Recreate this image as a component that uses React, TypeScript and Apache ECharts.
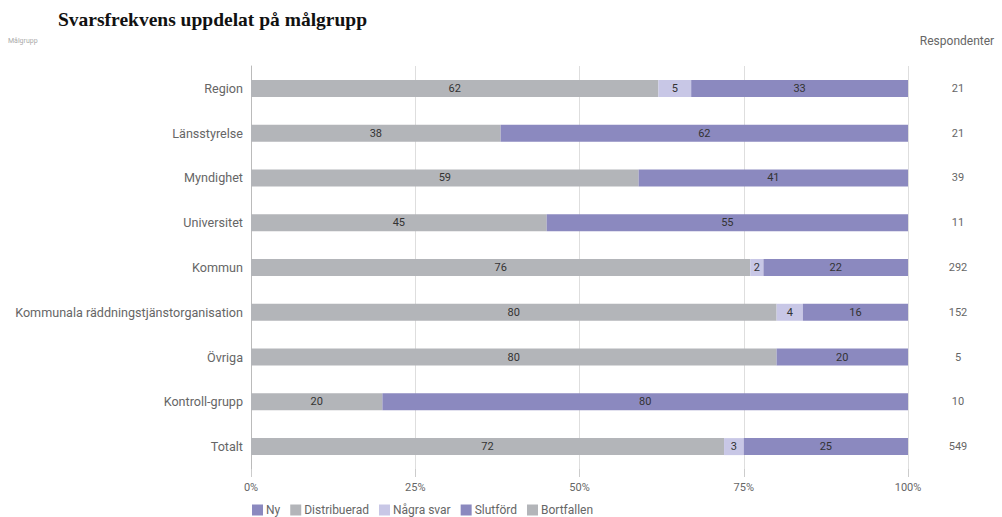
import React, { useEffect, useRef } from "react";
import * as echarts from "echarts";

const categories = [
  "Region",
  "Länsstyrelse",
  "Myndighet",
  "Universitet",
  "Kommun",
  "Kommunala räddningstjänstorganisation",
  "Övriga",
  "Kontroll-grupp",
  "Totalt",
];
const ny = [0, 0, 0, 0, 0, 0, 0, 0, 0];
const distribuerad = [62, 38, 59, 45, 76, 80, 80, 20, 72];
const nagraSvar = [5, 0, 0, 0, 2, 4, 0, 0, 3];
const slutford = [33, 62, 41, 55, 22, 16, 20, 80, 25];
const bortfallen = [0, 0, 0, 0, 0, 0, 0, 0, 0];
const respondenter = [21, 21, 39, 11, 292, 152, 5, 10, 549];
const xTicks = [0, 25, 50, 75, 100];

const seriesDefs = [
  { name: "Ny", data: ny, color: "#8b89bf" },
  { name: "Distribuerad", data: distribuerad, color: "#b3b5b9" },
  { name: "Några svar", data: nagraSvar, color: "#c8c7e6" },
  { name: "Slutförd", data: slutford, color: "#8b89bf" },
  { name: "Bortfallen", data: bortfallen, color: "#b3b5b9" },
];

export default function App() {
  const ref = useRef<HTMLDivElement>(null);
  useEffect(() => {
    if (!ref.current) return;
    const chart = echarts.init(ref.current, undefined, { renderer: "svg" });
    const font = "Roboto, 'Noto Sans', sans-serif";
    chart.setOption({
      animation: false,
      textStyle: { fontFamily: font },
      title: {
        text: "Svarsfrekvens uppdelat på målgrupp",
        left: 53,
        top: 4,
        textStyle: {
          fontFamily: "'Liberation Serif', 'DejaVu Serif', serif",
          fontWeight: "bold",
          fontSize: 19.5,
          color: "#111",
        },
      },
      graphic: [
        {
          type: "text",
          left: 8,
          top: 37,
          style: { text: "Målgrupp", fontSize: 7, fill: "#aaa", fontFamily: font },
        },
        {
          type: "text",
          x: 957,
          y: 41,
          style: {
            text: "Respondenter",
            fontSize: 12,
            fill: "#666",
            fontFamily: font,
            align: "center",
            verticalAlign: "middle",
          },
        },
      ],
      legend: {
        left: 247,
        top: 499,
        itemWidth: 11,
        itemHeight: 11,
        itemGap: 10,
        icon: "rect",
        textStyle: { fontSize: 12, color: "#666", fontFamily: font, padding: [0, 0, 0, -2] },
        data: seriesDefs.map((s) => s.name),
      },
      grid: { left: 251, right: 94, top: 66, bottom: 48, containLabel: false },
      xAxis: {
        type: "value",
        min: 0,
        max: 100,
        interval: 25,
        axisLabel: {
          formatter: (v: number) => (xTicks.includes(v) ? v + "%" : ""),
          color: "#666",
          fontSize: 11,
          margin: 13,
        },
        axisLine: { show: false },
        axisTick: { show: true, length: 8, lineStyle: { color: "#ccc" } },
        splitLine: { show: true, lineStyle: { color: "#dedede" } },
      },
      yAxis: [
        {
          type: "category",
          data: categories,
          inverse: true,
          axisLine: { show: true, lineStyle: { color: "#bbb" } },
          axisTick: { show: false },
          axisLabel: { color: "#666", fontSize: 12.6, margin: 8 },
        },
        {
          type: "category",
          data: categories,
          inverse: true,
          position: "right",
          axisLine: { show: false },
          axisTick: { show: false },
          axisLabel: {
            color: "#666",
            fontSize: 11,
            margin: 50,
            align: "center",
            formatter: (_v: string, i: number) => String(respondenter[i]),
          },
        },
      ],
      series: seriesDefs.map((s) => ({
        name: s.name,
        type: "bar",
        stack: "total",
        barWidth: 17,
        yAxisIndex: 0,
        itemStyle: { color: s.color },
        label: {
          show: true,
          position: "inside",
          color: "#333",
          fontSize: 11,
          formatter: (p: any) => (p.value > 0 ? String(p.value) : ""),
        },
        data: s.data,
      })),
    });
    return () => chart.dispose();
  }, []);
  return (
    <div
      ref={ref}
      style={{ position: "absolute", left: 0, top: 0, width: 1002, height: 517 }}
    />
  );
}
